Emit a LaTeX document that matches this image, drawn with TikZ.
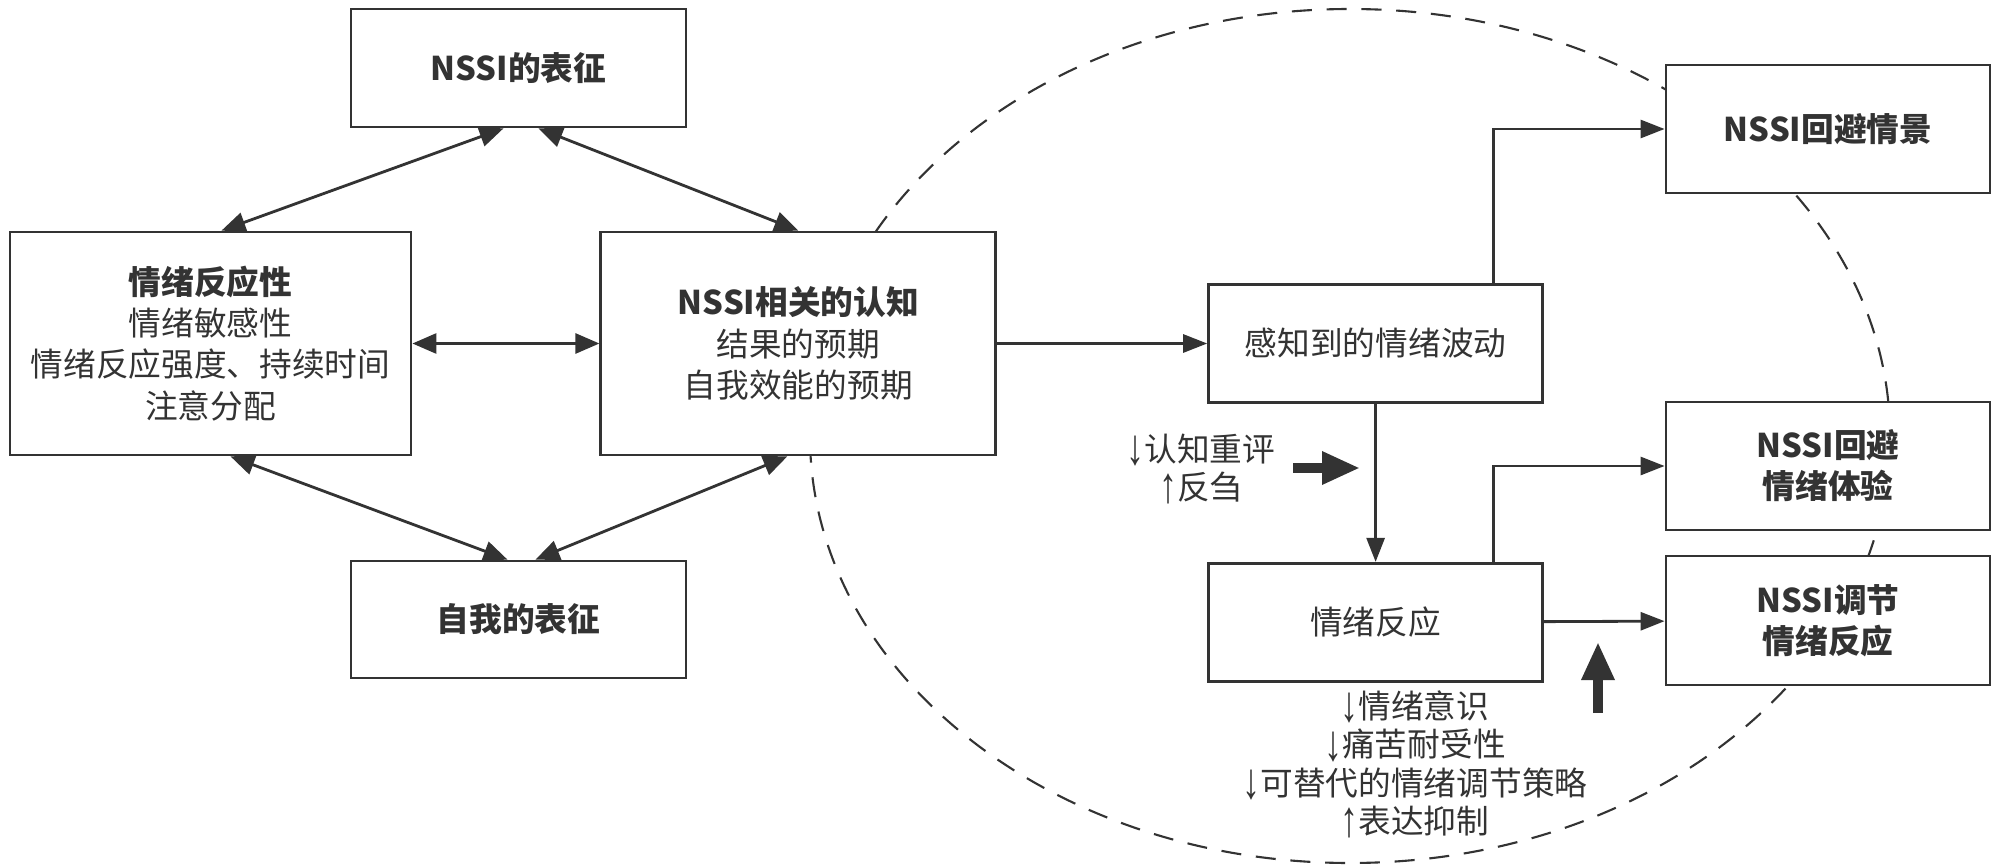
\documentclass[tikz,border=0pt]{standalone}
\usepackage{fontspec}
\setmainfont{Noto Sans CJK SC}
\newfontfamily\arrowfont{Liberation Sans}
\newcommand\dn{{\arrowfont\raisebox{-.2ex}{\scalebox{1.1}[1.55]{↓}}}}
\newcommand\upw{{\arrowfont\raisebox{-.2ex}{\scalebox{1.1}[1.55]{↑}}}}
\usetikzlibrary{arrows.meta,positioning,calc}
\definecolor{Ink}{HTML}{333333}
\tikzset{
  box/.style={draw=Ink,fill=white,line width=.8pt,align=center,inner sep=.1cm,text=Ink,font=\fontsize{9.3}{11.7}\selectfont},
  link/.style={{Triangle[length=2.4mm,width=2mm]}-{Triangle[length=2.4mm,width=2mm]},draw=Ink,line width=.8pt},
  flow/.style={-{Triangle[length=2.4mm,width=1.8mm]},draw=Ink,line width=.8pt},
  bigarrow/.style={-{Triangle[length=3.8mm,width=3.1mm]},draw=Ink,line width=2.6pt},
  loopline/.style={draw=Ink,line width=.6pt,dash pattern=on 5.7pt off 4.2pt},
  note/.style={align=center,text=Ink,font=\fontsize{9.3}{10.9}\selectfont}
}

\begin{document}
\begin{tikzpicture}
        \useasboundingbox (0,0) rectangle (19.99,-8.66);
        % dashed loop sits behind the right-hand boxes
        \draw[loopline] (13.50,-4.36) ellipse [x radius=5.40cm, y radius=4.27cm];
        \node[box,minimum width=3.35cm,minimum height=1.18cm] (nssirep) at (5.185,-0.68) {\textbf{NSSI的表征}};
        \node[box,minimum width=4.01cm,minimum height=2.23cm] (reactivity) at (2.105,-3.435) {\textbf{情绪反应性}\\情绪敏感性\\情绪反应强度、持续时间\\注意分配};
        \node[box,minimum width=3.95cm,minimum height=2.23cm,right=1.87cm of reactivity] (cognition) {\textbf{NSSI相关的认知}\\结果的预期\\自我效能的预期};
        \node[box,minimum width=3.35cm,minimum height=1.17cm] (selfrep) at (5.185,-6.195) {\textbf{自我的表征}};
        \node[box,minimum width=3.34cm,minimum height=1.18cm,right=2.10cm of cognition] (perceived) {感知到的情绪波动};
        \node[box,minimum width=3.34cm,minimum height=1.18cm,below=1.58cm of perceived] (emotion) {情绪反应};
        \node[box,minimum width=3.24cm,minimum height=1.28cm] (avoidsit) at (18.28,-1.29) {\textbf{NSSI回避情景}};
        \node[box,minimum width=3.24cm,minimum height=1.28cm] (avoidexp) at (18.28,-4.66) {\textbf{NSSI回避}\\\textbf{情绪体验}};
        \node[box,minimum width=3.24cm,minimum height=1.29cm] (regulate) at (18.28,-6.205) {\textbf{NSSI调节}\\\textbf{情绪反应}};
        \node[note] (reappraise) at (12.01,-4.69) {\dn 认知重评\\\upw 反刍};
        \node[note] (deficits) at (14.15,-7.645) {\dn 情绪意识\\\dn 痛苦耐受性\\\dn 可替代的情绪调节策略\\\upw 表达抑制};
        \coordinate (pushfrom) at (12.93,-4.68);
        \coordinate (pushto) at (13.60,-4.68);
        \coordinate (liftfrom) at (15.98,-7.13);
        \coordinate (liftto) at (15.98,-6.42);
        % left triangle
        \draw[link] ([xshift=-1.5mm]nssirep.south) -- ([xshift=1.1mm]reactivity.north);
        \draw[link] ([xshift=2mm]nssirep.south) -- (cognition.north);
        \draw[link] (reactivity.east) -- (cognition.west);
        \draw[link] ([xshift=2mm]reactivity.south) -- ([xshift=-1.1mm]selfrep.north);
        \draw[link] ([xshift=-1.1mm]cognition.south) -- ([xshift=1.7mm]selfrep.north);
        % right flow
        \draw[flow] (cognition) -- (perceived);
        \draw[flow] ([xshift=1.18cm]perceived.north) |- (avoidsit);
        \draw[flow] (perceived) -- (emotion);
        \draw[flow] ([xshift=1.18cm]emotion.north) |- (avoidexp);
        \draw[flow] (emotion) -- (regulate);
        \draw[bigarrow] (pushfrom) -- (pushto);
        \draw[bigarrow] (liftfrom) -- (liftto);
\end{tikzpicture}
\end{document}
